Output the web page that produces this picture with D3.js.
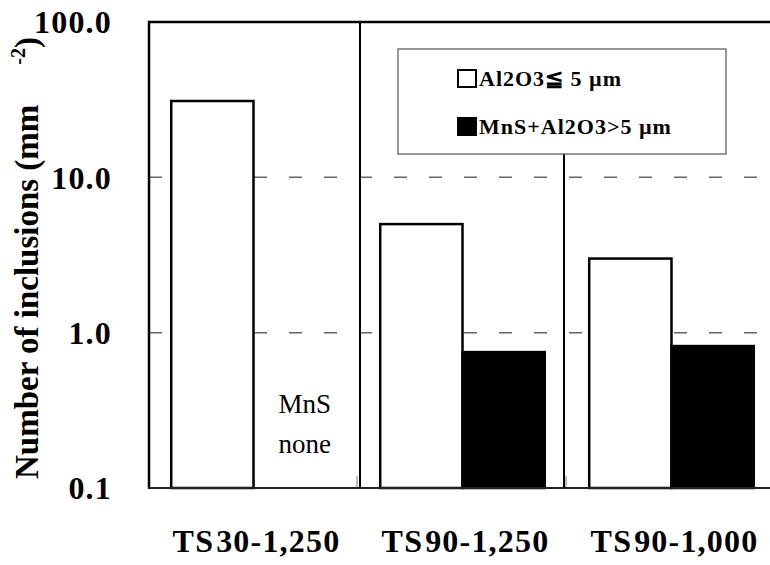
<!DOCTYPE html>
<html>
<head>
<meta charset="utf-8">
<script src="https://cdn.jsdelivr.net/npm/d3@7/dist/d3.min.js"></script>
</head>
<body style="margin:0">
<svg id="chart" width="770" height="565"></svg>
<script>
// Inclusion density per steel condition (per mm^2), log scale
const categories = ["TS30-1,250", "TS90-1,250", "TS90-1,000"];
const seriesNames = ["Al2O3≦ 5 µm", "MnS+Al2O3>5 µm"];
const smallOxide = [31, 5.0, 3.0];        // Al2O3 <= 5 µm
const largeMnS = [null, 0.75, 0.82];      // MnS+Al2O3 > 5 µm (none for TS30)
const yTicks = [0.1, 1, 10, 100];
const yTickLabels = ["0.1", "1.0", "10.0", "100.0"];
const noteLines = ["MnS", "none"];

const FONT = "'Liberation Serif', 'Times New Roman', serif";

const svg = d3.select("#chart");
const margin = { left: 149, top: 22, bottom: 488, right: 776 };

const x = d3.scaleBand().domain(categories).range([margin.left, margin.right]).paddingInner(0).paddingOuter(0);
const xSub = d3.scaleBand().domain([0, 1]).range([0, x.bandwidth()]).paddingInner(0).paddingOuter(0.27);
const y = d3.scaleLog().domain([0.1, 100]).range([margin.bottom, margin.top]);

// dashed gridlines at the inner decades
svg.append("g").selectAll("line")
  .data(yTicks.filter(v => v > 0.1 && v < 100))
  .join("line")
  .attr("x1", margin.left).attr("x2", margin.right)
  .attr("y1", d => y(d)).attr("y2", d => y(d))
  .attr("stroke", "#666").attr("stroke-width", 1.5)
  .attr("stroke-dasharray", "13 22");

// bars
const rows = [];
categories.forEach((c, i) => {
  rows.push({ cat: c, s: 0, v: smallOxide[i] });
  if (largeMnS[i] != null) rows.push({ cat: c, s: 1, v: largeMnS[i] });
});
svg.append("g").selectAll("rect")
  .data(rows)
  .join("rect")
  .attr("x", d => x(d.cat) + xSub(d.s))
  .attr("width", xSub.bandwidth())
  .attr("y", d => y(d.v))
  .attr("height", d => y(0.1) - y(d.v))
  .attr("fill", d => d.s === 0 ? "#fff" : "#000")
  .attr("stroke", "#000")
  .attr("stroke-width", 2.5);

// note in the empty slot of the first group
const noteX = x(categories[0]) + xSub(1) + 25;
const note = svg.append("text")
  .attr("font-family", FONT)
  .attr("y", y(0.1) - 75)
  .attr("font-size", 27);
noteLines.forEach((t, i) => note.append("tspan")
  .attr("x", noteX)
  .attr("dy", i === 0 ? 0 : 40)
  .text(t));

// small category ticks on the bottom axis
svg.append("g").selectAll("line")
  .data(categories.slice(1))
  .join("line")
  .attr("x1", d => x(d) - 1).attr("x2", d => x(d) - 1)
  .attr("y1", y(0.1)).attr("y2", y(0.1) - 12)
  .attr("stroke", "#777").attr("stroke-width", 1);

// frame: left axis, top border, bottom axis
svg.append("line").attr("x1", margin.left).attr("x2", margin.left)
  .attr("y1", margin.top - 1).attr("y2", margin.bottom + 1)
  .attr("stroke", "#000").attr("stroke-width", 2.5);
svg.append("line").attr("x1", margin.left - 1).attr("x2", margin.right)
  .attr("y1", margin.top).attr("y2", margin.top)
  .attr("stroke", "#000").attr("stroke-width", 2.5);
svg.append("line").attr("x1", margin.left - 1).attr("x2", margin.right)
  .attr("y1", margin.bottom).attr("y2", margin.bottom)
  .attr("stroke", "#222").attr("stroke-width", 2);

// legend box
const legend = { x: 398, y: 49, w: 328, h: 105 };

// group separators (the second one stops under the legend)
svg.append("line")
  .attr("x1", x(categories[1]) + 2).attr("x2", x(categories[1]) + 2)
  .attr("y1", margin.top).attr("y2", margin.bottom)
  .attr("stroke", "#000").attr("stroke-width", 2);
svg.append("line")
  .attr("x1", x(categories[2]) - 3).attr("x2", x(categories[2]) - 3)
  .attr("y1", legend.y + legend.h).attr("y2", margin.bottom)
  .attr("stroke", "#000").attr("stroke-width", 2);

const lg = svg.append("g").attr("transform", `translate(${legend.x},${legend.y})`);
lg.append("rect").attr("width", legend.w).attr("height", legend.h)
  .attr("fill", "#fff").attr("stroke", "#555").attr("stroke-width", 1.2);
seriesNames.forEach((name, i) => {
  const row = lg.append("g").attr("transform", `translate(60,${21 + i * 48})`);
  row.append("rect").attr("width", 18).attr("height", 17)
    .attr("fill", i === 0 ? "#fff" : "#000").attr("stroke", "#000").attr("stroke-width", 2);
  row.append("text").attr("x", 21).attr("y", 16)
    .attr("font-family", FONT)
    .attr("font-size", 22).attr("font-weight", "bold")
    .attr("letter-spacing", 1)
    .text(name);
});

// y tick labels
svg.append("g").selectAll("text")
  .data(yTicks)
  .join("text")
  .attr("font-family", FONT)
  .attr("x", 112)
  .attr("y", d => y(d))
  .attr("dy", "0.35em")
  .attr("text-anchor", "end")
  .attr("font-size", 32).attr("font-weight", "bold")
  .attr("letter-spacing", 1.2)
  .text((d, i) => yTickLabels[i]);

// x category labels
svg.append("g").selectAll("text")
  .data(categories)
  .join("text")
  .attr("font-family", FONT)
  .attr("x", d => x(d) + x.bandwidth() / 2 + 3)
  .attr("y", 552)
  .attr("text-anchor", "middle")
  .attr("font-size", 32).attr("font-weight", "bold")
  .attr("letter-spacing", 1.2)
  .each(function (d) {
    const t = d3.select(this);
    t.append("tspan").text(d.slice(0, 2));
    t.append("tspan").attr("dx", 2).text(d.slice(2));
  });

// y axis title
const title = svg.append("text")
  .attr("font-family", FONT)
  .attr("transform", "translate(38,479) rotate(-90)")
  .attr("font-size", 33).attr("font-weight", "bold");
title.append("tspan").text("Number of inclusions (mm");
title.append("tspan").attr("dx", 40).attr("dy", -13).attr("font-size", 20).text("-2");
title.append("tspan").attr("dy", 13).text(")");
</script>
</body>
</html>
